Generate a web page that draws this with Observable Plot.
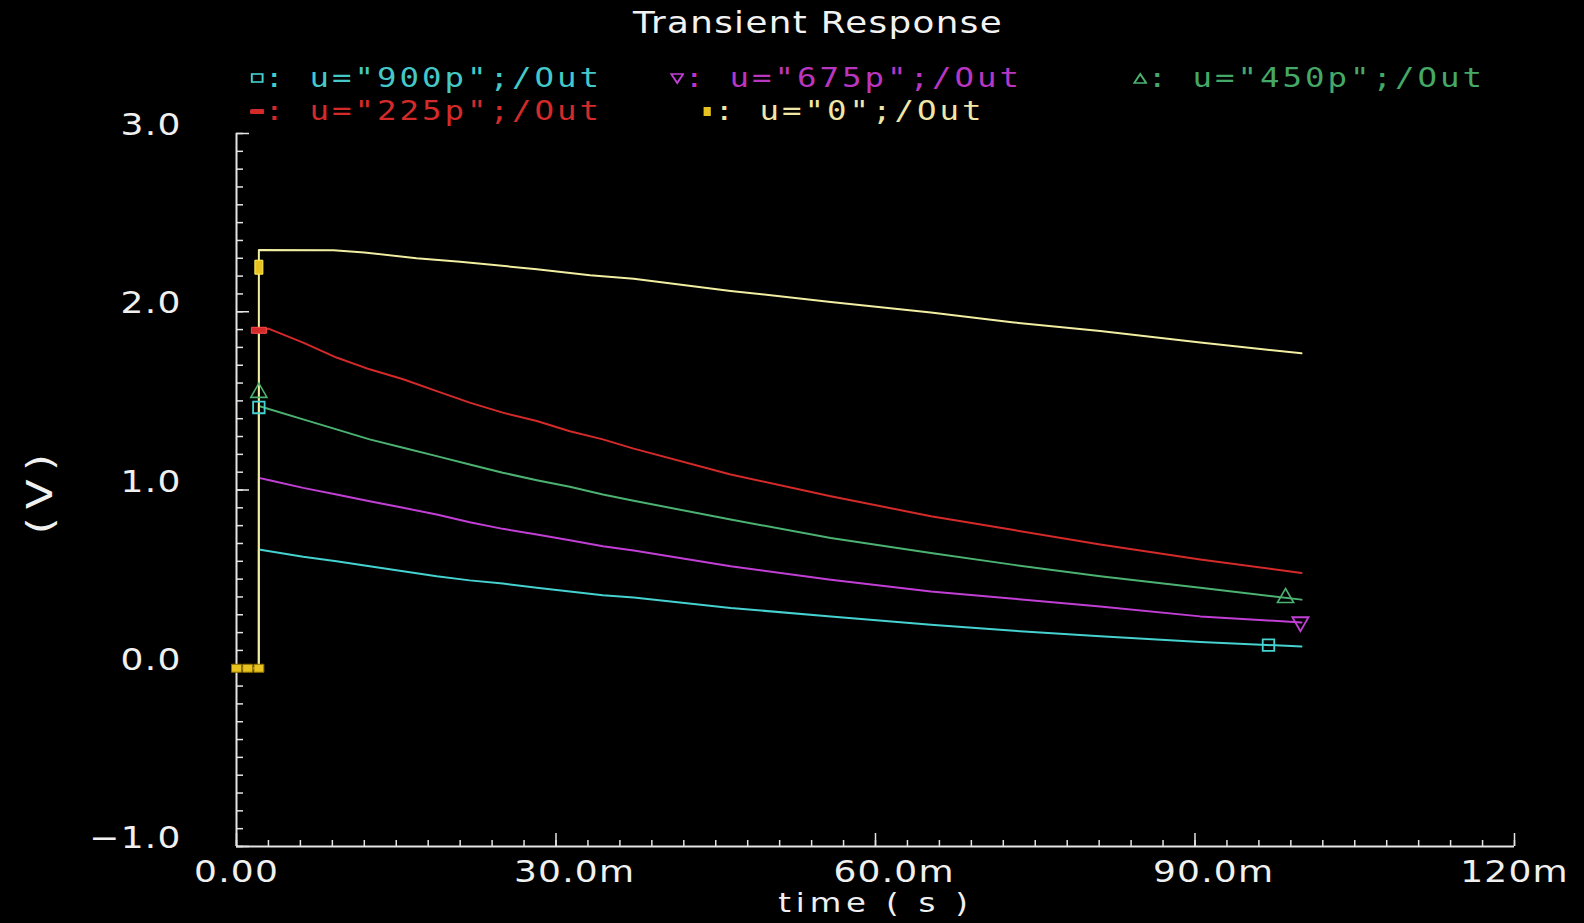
<!DOCTYPE html>
<html>
<head>
<meta charset="utf-8">
<script src="https://cdn.jsdelivr.net/npm/d3@7"></script>
<script src="https://cdn.jsdelivr.net/npm/@observablehq/plot@0.6"></script>
<style>
  html, body { margin: 0; padding: 0; background: #000; }
  #chart { position: relative; width: 1584px; height: 923px; background: #000; overflow: hidden;
           font-family: "DejaVu Sans", sans-serif; color: #f0f0f0; }
  #header { position: relative; width: 1584px; height: 100px; }
  #title { position: absolute; left: 818px; top: 5px; transform: translateX(-50%) scaleX(1.15);
           font-size: 31px; line-height: 34px; letter-spacing: 1.2px; white-space: pre; color: #f2f2f2; }
  .item { position: absolute; font-family: "DejaVu Sans Mono", monospace; font-size: 27px; line-height: 30px;
          letter-spacing: 2.5px; white-space: pre; transform: scaleX(1.2); transform-origin: 0 50%; }
  .item svg { vertical-align: middle; position: relative; top: -2px; }
  #chart > svg { display: block; }
</style>
</head>
<body>
<div id="chart">
  <div id="header">
    <div id="title"></div>
  </div>
</div>
<script>
// Transient response of /Out for five values of the parameter u
const title = "Transient Response";
const seriesKeys   = ["900p", "675p", "450p", "225p", "0"];
const seriesLabels = ['u="900p";/Out', 'u="675p";/Out', 'u="450p";/Out', 'u="225p";/Out', 'u="0";/Out'];
const seriesColors = ["#45d2d0", "#c23fd6", "#4cb272", "#d42a2a", "#f2eea2"];
const legendColors = ["#45c8c8", "#b936c0", "#45a866", "#d42a2a", "#f0e6a8"];
const markerColors = ["#45d2d0", "#c23fd6", "#4cb272", "#d42a2a", "#e8c21e"];

// time in ms, output in V
const out900 = [[0,0],[2.1,0],[2.1,0.666],[6.26,0.625],[9.39,0.600],[12.5,0.572],[15.65,0.544],[18.8,0.516],[21.9,0.493],[25.0,0.475],[28.2,0.451],[31.3,0.431],[34.4,0.409],[37.3,0.397],[46.4,0.338],[55.8,0.291],[65.2,0.244],[73,0.21],[81.1,0.179],[90.5,0.147],[100,0.122]];
const out675 = [[0,0],[2.1,0],[2.1,1.068],[3.1,1.055],[6.26,1.012],[9.39,0.975],[12.5,0.937],[15.65,0.900],[18.8,0.862],[21.9,0.819],[25.0,0.782],[28.2,0.750],[31.3,0.718],[34.4,0.684],[37.3,0.661],[46.4,0.572],[55.8,0.497],[65.2,0.431],[73,0.39],[81.1,0.347],[90.5,0.291],[100,0.257]];
const out450 = [[0,0],[2.1,0],[2.1,1.471],[6.26,1.396],[9.39,1.340],[12.5,1.284],[15.65,1.237],[18.8,1.190],[21.9,1.143],[25.0,1.097],[28.2,1.055],[31.3,1.018],[34.4,0.975],[37.3,0.940],[46.4,0.834],[55.8,0.731],[65.2,0.647],[73,0.58],[81.1,0.516],[90.5,0.451],[100,0.385]];
const out225 = [[0,0],[2.1,0],[2.1,1.896],[3.0,1.905],[6.26,1.827],[9.39,1.743],[12.5,1.677],[15.65,1.621],[18.8,1.555],[21.9,1.490],[25.0,1.434],[28.2,1.387],[31.3,1.330],[34.4,1.284],[37.3,1.232],[46.4,1.087],[55.8,0.965],[65.2,0.853],[73,0.775],[81.1,0.694],[90.5,0.610],[100,0.535]];
const out0   = [[0,0],[2.1,0],[2.1,2.347],[9.1,2.345],[12,2.333],[16.9,2.30],[21,2.28],[28.2,2.239],[33.2,2.205],[37.3,2.185],[46.4,2.117],[55.8,2.055],[65.2,1.996],[73,1.94],[81.1,1.892],[90.5,1.827],[100,1.767]];

// marker points placed along each trace
const marks900 = [[2.1,1.463],[96.9,0.13]];
const marks675 = [[99.9,0.26]];
const marks450 = [[2.1,1.546],[98.5,0.395]];
const marks225 = [[2.1,1.896]];
const marks0   = [[0,0],[1.05,0],[2.1,0],[2.1,2.25]];

// axes
const xMajor = [0, 30, 60, 90, 120];
const xTickLabels = ["0.00", "30.0m", "60.0m", "90.0m", "120m"];
const xMinor = d3.range(0, 41).map(i => i * 3);
const yMajor = [-1, 0, 1, 2, 3];
const yTickLabels = ["\u22121.0", "0.0", "1.0", "2.0", "3.0"];
const yMinor = d3.range(0, 41).map(i => Math.round((-1 + i * 0.1) * 10) / 10);
const xTitle = "time ( s )";
const yTitle = "(V)";

const axisColor = "#e4e4e4";
const textColor = "#f0f0f0";

// a decimal label keeps its number centred on the tick with the unit hanging to the right:
// an em space in front balances the width of the trailing "m"
const xLabelText = (d, i) => {
  const s = xTickLabels[i];
  return (s.includes(".") && s.endsWith("m") ? "\u2003" : "") + s;
};

// custom marker shapes
const barH = {draw(c) { c.rect(-7.5, -3, 15, 6); }};
const barV = {draw(c) { c.rect(-4, -7, 8, 14); }};
const cell = {draw(c) { c.rect(-5, -4, 10, 8); }};

const series = [out900, out675, out450, out225, out0];
const lines = series.map((d, i) => Plot.line(d, {x: p => p[0], y: p => p[1], stroke: seriesColors[i], strokeWidth: 2}));

const markerMarks = [
  Plot.dot(marks900, {x: p => p[0], y: p => p[1], symbol: "square", r: 6.5, stroke: markerColors[0], strokeWidth: 1.8, fill: "none"}),
  Plot.dot(marks675, {x: p => p[0], y: p => p[1], symbol: "triangle", rotate: 180, r: 6, stroke: markerColors[1], strokeWidth: 1.8, fill: "none"}),
  Plot.dot(marks450, {x: p => p[0], y: p => p[1], symbol: "triangle", r: 6, stroke: markerColors[2], strokeWidth: 1.6, fill: "none"}),
  Plot.dot(marks225, {x: p => p[0], y: p => p[1], symbol: barH, stroke: "#ff4a4a", strokeWidth: 1, fill: markerColors[3]}),
  Plot.dot(marks0.slice(0, 3), {x: p => p[0], y: p => p[1], symbol: cell, stroke: "#8a6d00", strokeWidth: 1, fill: markerColors[4]}),
  Plot.dot(marks0.slice(3), {x: p => p[0], y: p => p[1], symbol: barV, stroke: "#fff25a", strokeWidth: 1, fill: markerColors[4]})
];

const chart = Plot.plot({
  width: 1584,
  height: 823,
  marginLeft: 236,
  marginRight: 70,
  marginTop: 33,
  marginBottom: 77,
  style: {background: "transparent", color: textColor, fontFamily: "'DejaVu Sans', sans-serif", fontSize: "30px", letterSpacing: "1px"},
  x: {domain: [0, 120], label: null},
  y: {domain: [-1, 3], label: null},
  marks: [
    Plot.axisY(yMinor, {tickSize: 7, dx: 7, text: null, label: null, stroke: axisColor, strokeWidth: 1.5}),
    Plot.axisY(yMajor, {tickSize: 13, dx: 13, text: null, label: null, stroke: axisColor, strokeWidth: 1.5}),
    Plot.axisY(yMajor, {tickSize: 0, tickPadding: 55, dy: -8, tickFormat: (d, i) => yTickLabels[i], label: null, fill: textColor}),
    Plot.axisX(xMinor, {tickSize: 6, dy: -6, text: null, label: null, stroke: axisColor, strokeWidth: 1.5}),
    Plot.axisX(xMajor, {tickSize: 13, dy: -13, text: null, label: null, stroke: axisColor, strokeWidth: 1.5}),
    Plot.axisX(xMajor, {tickSize: 0, tickPadding: 14, tickFormat: xLabelText, label: null, fill: textColor}),
    Plot.ruleX([0], {stroke: axisColor, strokeWidth: 2}),
    Plot.ruleY([-1], {stroke: axisColor, strokeWidth: 2}),
    Plot.text([xTitle], {frameAnchor: "bottom", textAnchor: "middle", lineAnchor: "middle", dy: 57, fill: textColor, fontSize: 27}),
    Plot.text([yTitle], {frameAnchor: "left", textAnchor: "middle", lineAnchor: "middle", dx: -196, rotate: -90, fill: textColor, fontSize: 36}),
    ...lines,
    ...markerMarks
  ]
});

document.getElementById("chart").appendChild(chart);

// the plotter's stroke font is wide: stretch every label along its own direction
d3.select(chart).selectAll("text").each(function() {
  if (this.textContent === yTitle) this.setAttribute("letter-spacing", "7px");
  if (this.textContent === xTitle) this.setAttribute("letter-spacing", "4px");
  const len = this.getComputedTextLength();
  if (len > 0) {
    this.setAttribute("textLength", (len * 1.2).toFixed(1));
    this.setAttribute("lengthAdjust", "spacingAndGlyphs");
  }
});

// title and legend
document.getElementById("title").textContent = title;

const legendPos = [
  {left: 250, row: 0}, {left: 670, row: 0}, {left: 1133, row: 0},
  {left: 250, row: 1}, {left: 700, row: 1}
];
const rowTop = [63, 96];
const legendSymbols = [
  c => `<svg width="12" height="14"><rect x="1.5" y="3" width="9" height="8" fill="none" stroke="${c}" stroke-width="1.6"/></svg>`,
  c => `<svg width="12" height="14"><path d="M1,3 L11,3 L6,12 Z" fill="none" stroke="${c}" stroke-width="1.6"/></svg>`,
  c => `<svg width="12" height="14"><path d="M1,12 L11,12 L6,3 Z" fill="none" stroke="${c}" stroke-width="1.6"/></svg>`,
  c => `<svg width="12" height="14"><rect x="0" y="5" width="12" height="5" rx="1.5" fill="${c}"/></svg>`,
  c => `<svg width="12" height="14"><rect x="3" y="3" width="6" height="9" fill="${c}"/></svg>`
];
const header = document.getElementById("header");
seriesKeys.forEach((k, i) => {
  const el = document.createElement("span");
  el.className = "item";
  el.style.left = legendPos[i].left + "px";
  el.style.top = rowTop[legendPos[i].row] + "px";
  el.style.color = legendColors[i];
  el.innerHTML = legendSymbols[i](markerColors[i]) + ": ";
  el.appendChild(document.createTextNode(seriesLabels[i]));
  header.appendChild(el);
});
</script>
</body>
</html>
